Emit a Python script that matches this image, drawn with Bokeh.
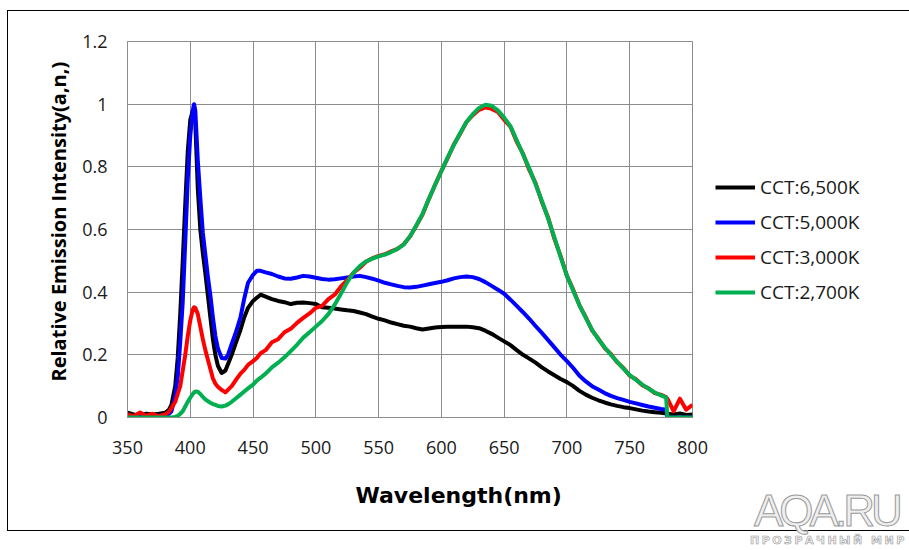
from bokeh.plotting import figure
from bokeh.models import Legend, LegendItem, FixedTicker, NumeralTickFormatter, Title, Div
from bokeh.layouts import column
from bokeh.embed import file_html
from bokeh.resources import INLINE
import numpy as np

# ---------------- data ----------------
wavelength = [
    350, 355, 360, 365, 370, 375, 380,
    383, 385, 388, 390, 392, 394, 396, 398, 400, 402, 403, 404, 406, 408, 410, 412, 414, 416, 418, 420, 422, 425, 428, 430, 433, 436, 440, 443, 446, 450, 453, 456, 460,
    465, 470, 475, 480, 485, 490, 495, 500, 505, 510,
    515, 520, 525, 530, 535, 540, 545, 550, 555, 560,
    565, 570, 575, 580, 585, 590, 595, 600, 605, 610,
    615, 620, 625, 630, 635, 640, 645, 650, 655, 660,
    665, 670, 675, 680, 685, 690, 695, 700, 705, 710,
    715, 720, 725, 730, 735, 740, 745, 750, 755, 760,
    765, 770, 775,
    779, 780, 785, 790, 795, 800,
]

cct_6500 = [
    0.015, 0.010, 0.008, 0.012, 0.010, 0.012, 0.015,
    0.025, 0.040, 0.100, 0.190, 0.330, 0.500, 0.680, 0.850, 0.950, 0.980, 0.978, 0.940, 0.730, 0.600, 0.525, 0.460, 0.390, 0.320, 0.250, 0.200, 0.165, 0.142, 0.150, 0.170, 0.200, 0.235, 0.280, 0.320, 0.350, 0.372, 0.382, 0.392, 0.386,
    0.378, 0.372, 0.368, 0.362, 0.366, 0.367, 0.365, 0.362, 0.352, 0.350,
    0.348, 0.345, 0.342, 0.340, 0.335, 0.330, 0.322, 0.315, 0.310, 0.303,
    0.298, 0.293, 0.290, 0.285, 0.281, 0.284, 0.287, 0.289, 0.290, 0.290,
    0.290, 0.290, 0.288, 0.285, 0.277, 0.267, 0.255, 0.243, 0.231, 0.215,
    0.200, 0.188, 0.175, 0.160, 0.147, 0.135, 0.123, 0.113, 0.100, 0.085,
    0.073, 0.063, 0.055, 0.048, 0.042, 0.037, 0.033, 0.030, 0.026, 0.022,
    0.019, 0.017, 0.015,
    0.013, 0.012, 0.010, 0.013, 0.008, 0.010,
]

cct_5000 = [
    0.004, 0.004, 0.004, 0.005, 0.005, 0.006, 0.008,
    0.012, 0.020, 0.070, 0.130, 0.240, 0.370, 0.560, 0.760, 0.900, 0.980, 1.000, 0.980, 0.820, 0.700, 0.590, 0.520, 0.450, 0.390, 0.320, 0.260, 0.220, 0.190, 0.188, 0.200, 0.235, 0.268, 0.320, 0.380, 0.430, 0.455, 0.468, 0.468, 0.463,
    0.458, 0.450, 0.444, 0.443, 0.447, 0.452, 0.450, 0.446, 0.442, 0.440,
    0.441, 0.444, 0.447, 0.450, 0.452, 0.448, 0.443, 0.437, 0.430, 0.425,
    0.420, 0.416, 0.415, 0.417, 0.421, 0.425, 0.429, 0.433, 0.438, 0.444,
    0.448, 0.450, 0.448, 0.442, 0.432, 0.420, 0.408, 0.395, 0.376, 0.356,
    0.336, 0.315, 0.292, 0.270, 0.247, 0.224, 0.200, 0.180, 0.158, 0.133,
    0.115, 0.100, 0.089, 0.078, 0.069, 0.062, 0.056, 0.050, 0.045, 0.040,
    0.035, 0.031, 0.027,
    0.025, 0.000, 0.000, 0.000, 0.000, 0.000,
]

cct_3000 = [
    0.010, 0.004, 0.016, 0.005, 0.012, 0.004, 0.010,
    0.018, 0.030, 0.050, 0.075, 0.100, 0.150, 0.200, 0.260, 0.310, 0.345, 0.352, 0.350, 0.330, 0.290, 0.250, 0.215, 0.185, 0.155, 0.125, 0.108, 0.098, 0.088, 0.080, 0.088, 0.100, 0.118, 0.140, 0.152, 0.168, 0.180, 0.190, 0.205, 0.215,
    0.240, 0.250, 0.272, 0.283, 0.302, 0.318, 0.332, 0.350, 0.356, 0.378,
    0.392, 0.418, 0.438, 0.462, 0.478, 0.497, 0.508, 0.516, 0.521, 0.530,
    0.538, 0.553, 0.578, 0.612, 0.648, 0.697, 0.743, 0.787, 0.828, 0.872,
    0.906, 0.943, 0.965, 0.982, 0.990, 0.985, 0.975, 0.950, 0.928, 0.880,
    0.842, 0.790, 0.748, 0.688, 0.638, 0.570, 0.515, 0.452, 0.408, 0.358,
    0.320, 0.278, 0.252, 0.222, 0.203, 0.176, 0.158, 0.133, 0.122, 0.103,
    0.093, 0.078, 0.072,
    0.065, 0.060, 0.020, 0.060, 0.025, 0.040,
]

cct_2700 = [
    0.000, 0.000, 0.000, 0.000, 0.000, 0.000, 0.000,
    0.000, 0.000, 0.002, 0.005, 0.012, 0.020, 0.035, 0.050, 0.063, 0.075, 0.080, 0.083, 0.082, 0.075, 0.066, 0.058, 0.052, 0.047, 0.043, 0.040, 0.037, 0.035, 0.038, 0.042, 0.050, 0.060, 0.073, 0.083, 0.093, 0.105, 0.118, 0.127, 0.140,
    0.160, 0.175, 0.192, 0.212, 0.232, 0.255, 0.272, 0.290, 0.308, 0.330,
    0.360, 0.395, 0.432, 0.462, 0.483, 0.498, 0.507, 0.514, 0.520, 0.528,
    0.538, 0.552, 0.578, 0.613, 0.650, 0.697, 0.743, 0.786, 0.830, 0.870,
    0.908, 0.943, 0.968, 0.988, 0.998, 0.995, 0.980, 0.957, 0.930, 0.885,
    0.840, 0.795, 0.745, 0.692, 0.635, 0.575, 0.512, 0.452, 0.405, 0.358,
    0.318, 0.280, 0.250, 0.224, 0.200, 0.178, 0.156, 0.135, 0.120, 0.105,
    0.092, 0.080, 0.070,
    0.064, 0.000, 0.000, 0.000, 0.000, 0.000,
]

series_names = ["CCT:6,500K", "CCT:5,000K", "CCT:3,000K", "CCT:2,700K"]
series_values = [cct_6500, cct_5000, cct_3000, cct_2700]
series_colors = ["#000000", "#0000FF", "#FF0000", "#00B050"]

x_ticks = [350, 400, 450, 500, 550, 600, 650, 700, 750, 800]
y_ticks = [0, 0.2, 0.4, 0.6, 0.8, 1.0, 1.2]

x_title = "Wavelength(nm)"
y_title = "Relative Emission Intensity(a,n,)"
watermark = "AQA.RU"
watermark_sub = "ПРОЗРАЧНЫЙ МИР"

# ---------------- figure ----------------
FONT = "Open Sans"
GRID = "#8c8c8c"

p = figure(
    frame_width=563, frame_height=374,
    x_range=(350, 800), y_range=(0, 1.2),
    output_backend="svg", toolbar_location=None,
    min_border_left=119, min_border_right=204,
    min_border_top=30, min_border_bottom=112,
    background_fill_color="white", border_fill_color="white",
)
p.styles = {"border": "1px solid #000000", "margin-top": "10px", "margin-left": "7px"}

p.outline_line_color = GRID
p.outline_line_width = 1

p.xaxis.ticker = FixedTicker(ticks=x_ticks)
p.yaxis.ticker = FixedTicker(ticks=y_ticks)
p.yaxis.formatter = NumeralTickFormatter(format="0.[0]")
p.xgrid.ticker = FixedTicker(ticks=x_ticks)
p.ygrid.ticker = FixedTicker(ticks=y_ticks)
for g in (p.xgrid, p.ygrid):
    g.grid_line_color = GRID
    g.grid_line_width = 1

for ax in (p.xaxis, p.yaxis):
    ax.axis_line_color = GRID
    ax.axis_line_width = 1
    ax.major_tick_line_color = None
    ax.minor_tick_line_color = None
    ax.major_tick_out = 0
    ax.major_tick_in = 0
    ax.major_label_text_font = FONT
    ax.major_label_text_font_size = "18px"
    ax.major_label_text_color = "#1a1a1a"
p.yaxis.major_label_standoff = 20
p.xaxis.major_label_standoff = 23

yt = Title(text=y_title, align="left", offset=36,
           text_font=FONT, text_font_style="bold", text_font_size="20px",
           text_color="#000000", standoff=16)
p.add_layout(yt, "left")

xt = Title(text=x_title, align="left", offset=228,
           text_font="DejaVu Sans", text_font_style="bold", text_font_size="22px",
           text_color="#000000", standoff=49)
p.add_layout(xt, "below")

xs = np.array(wavelength, dtype=float)
renderers = []
for vals, col in zip(series_values, series_colors):
    r = p.line(xs, np.array(vals, dtype=float), line_color=col, line_width=4,
               line_join="round")
    renderers.append(r)

legend = Legend(
    items=[LegendItem(label=n, renderers=[r]) for n, r in zip(series_names, renderers)],
    location=(23, 112),
    border_line_color=None, background_fill_alpha=0,
    padding=0, margin=0, spacing=9, label_standoff=5,
    glyph_width=40, glyph_height=20, label_height=20,
    label_text_font=FONT, label_text_font_size="19px", label_text_color="#1a1a1a",
)
p.add_layout(legend, "right")

wm_html = (
    '<div style="position:relative;width:905px;height:66px;">'
    '<span style="position:absolute;left:754px;top:14px;font-family:\'Liberation Sans\';'
    'font-size:44px;line-height:32px;letter-spacing:-4px;color:#efefef;'
    '-webkit-text-stroke:1px #9a9a9a;white-space:nowrap;">' + watermark + '</span>'
    '<span style="position:absolute;left:750px;top:54px;font-family:\'DejaVu Sans\';'
    'font-weight:bold;font-size:11px;line-height:11px;letter-spacing:2.5px;color:#f2f2f2;'
    '-webkit-text-stroke:0.6px #9a9a9a;white-space:nowrap;">' + watermark_sub + '</span>'
    '</div>'
)
wm = Div(text=wm_html, width=905, height=66, margin=(-50, 0, 0, 0))

layout = column(p, wm, spacing=0)

open("out.html", "w").write(file_html(layout, INLINE))
